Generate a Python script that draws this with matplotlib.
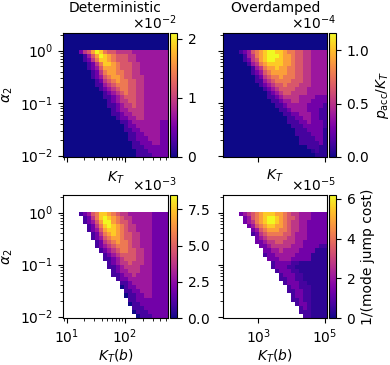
import numpy as np
import matplotlib
matplotlib.use("Agg")
import matplotlib.pyplot as plt
from matplotlib.ticker import ScalarFormatter

plt.rcParams['axes.unicode_minus'] = False

# scan ranges (bin edges)
kt_det = [8.65, 547.0]          # K_T range, deterministic
kt_od = [87.0, 1.15e5]          # K_T range, overdamped
alpha_lim = [0.0094, 1.04, 2.17]  # bottom of grid, top of data rows, top of axes

# colour scale maxima
vmax_det_acc = 2.1e-2
vmax_od_acc = 1.16e-4
vmax_det_jump = 8.5e-3
vmax_od_jump = 6.2e-5

# colourbar ticks
ticks_det_acc = [0, 1e-2, 2e-2]
ticks_od_acc = [0, 0.5e-4, 1.0e-4]
ticks_det_jump = [0, 2.5e-3, 5.0e-3, 7.5e-3]
ticks_od_jump = [0, 2e-5, 4e-5, 6e-5]

# colour levels: digits are whole steps, letters are the half steps between them
LEVELS = "0a1b2c3d4e5f6g7h8i9"

# one string per alpha_2 row (top row = alpha_2 ~ 1), one char per K_T column
# '.' = no data
det_acc = [
    "00002457986554444333333333",
    "00000135798765554433333333",
    "00000124688765554433333333",
    "00000012468876555443333333",
    "00000012357776555443333333",
    "00000001246776655443333333",
    "00000001235677655444333333",
    "00000000124567665544333333",
    "00000000113456665544333333",
    "00000000012345665544333333",
    "00000000001234565544333333",
    "00000000001123455544333333",
    "00000000000123445544333333",
    "00000000000112344544333333",
    "00000000000012334444333333",
    "00000000000011233444333333",
    "00000000000001223344333333",
    "00000000000000112333333322",
    "00000000000000012233333322",
    "00000000000000011223333322",
    "00000000000000001122333322",
    "00000000000000001122233322",
    "00000000000000000112223322",
    "00000000000000000111222222",
    "00000000000000000011122222",
    "00000000000000000011112222",
]

od_acc = [
    "00001235678998876655443333",
    "00000134678999877655443333",
    "00000124578998877655443333",
    "00000013467888877655443333",
    "00000001346778776655443333",
    "00000001235677776655443333",
    "00000000124566766655443333",
    "00000000113456666555443333",
    "00000000012345565554443333",
    "00000000001234555544433333",
    "00000000000123455444433333",
    "00000000000112344443333222",
    "00000000000011233443332222",
    "00000000000001123333322221",
    "00000000000000112333322211",
    "00000000000000011223332211",
    "00000000000000001122332211",
    "00000000000000001112232221",
    "00000000000000000111222221",
    "0000000000000000001112222a",
    "0000000000000000001111222a",
    "0000000000000000000111122a",
    "0000000000000000000111112a",
    "000000000000000000000111aa",
    "0000000000000000000000a1aa",
    "00000000000000000000000aaa",
]

det_jump = [
    "....1235688765443333332222",
    ".....124689876544333332222",
    ".....123579976554333332222",
    "......12468987654433332222",
    "......12357887654433332222",
    ".......1246787655443332222",
    ".......1235677655443332222",
    "........124567665443332222",
    "........123456665443332222",
    ".........12345665544332222",
    "..........1234555544332222",
    "..........1123455544332222",
    "...........123445444332222",
    "...........112344443332222",
    "............12334443332222",
    "............11233433332222",
    ".............1223333332222",
    "..............112333332222",
    "..............012233332222",
    "...............11223332222",
    "...............01122332222",
    "................1122222222",
    "................0112222222",
    ".................111222222",
    ".................011122222",
    "..................01112222",
]

od_jump = [
    "....2345678887765443332222",
    ".....235678998765543332222",
    ".....234678998765443322222",
    "......23567887765443322222",
    ".......2356777665443322222",
    ".......1245666655433322222",
    "........234555554433322222",
    "........223445544433222222",
    ".........22344444333222211",
    "..........2233433332222aaa",
    "..........122333332222aaaa",
    "...........22233322222aaaa",
    "............1222211aaaaaaa",
    "............122211aaaaaaaa",
    ".............122211aaaaaaa",
    "..............122211aaaaaa",
    "..............112211aaaaaa",
    "...............122211aaaaa",
    "................122111aaaa",
    "................112211aaaa",
    ".................12211aaaa",
    ".................11211aaaa",
    "..................1221aaaa",
    "...................121aaaa",
    "...................111aaaa",
    "....................11aaaa",
]


def to_grid(rows, vmax, top_fill):
    # rows are listed top to bottom, pcolormesh wants bottom to top
    z = np.full((len(rows) + 1, len(rows[0])), top_fill)
    for i, row in enumerate(rows[::-1]):
        for j, ch in enumerate(row):
            z[i, j] = np.nan if ch == '.' else LEVELS.index(ch) / 18 * vmax
    return np.ma.masked_invalid(z)


def edges(rows, kt):
    n_a = len(rows)
    n_k = len(rows[0])
    a_e = np.append(np.logspace(np.log10(alpha_lim[0]), np.log10(alpha_lim[1]), n_a + 1), alpha_lim[2])
    k_e = np.logspace(np.log10(kt[0]), np.log10(kt[1]), n_k + 1)
    return k_e, a_e


W, H = 390, 365
fig = plt.figure(figsize=(W / 100, H / 100), dpi=100)


def px_axes(l, t, r, b):
    return fig.add_axes([l / W, 1 - b / H, (r - l) / W, (b - t) / H])


def panel(box, rows, kt, vmax, ticks, top_fill, title=None, xlabel=None, ylabel=None,
          cbar_label=None, show_x=True, show_y=True):
    l, t, r, b = box
    ax = px_axes(l, t, r, b)
    k_e, a_e = edges(rows, kt)
    m = ax.pcolormesh(k_e, a_e, to_grid(rows, vmax, top_fill), cmap='plasma', vmin=0, vmax=vmax)
    ax.set_xscale('log')
    ax.set_yscale('log')
    ax.set_xlim(k_e[0], k_e[-1])
    ax.set_ylim(a_e[0], a_e[-1])
    if title:
        ax.set_title(title, fontsize=10, pad=15)
    ax.set_xlabel(xlabel, labelpad=1 if show_x else 4)
    if ylabel:
        ax.set_ylabel(ylabel)
    ax.tick_params(labelbottom=show_x, labelleft=show_y)

    cax = px_axes(r + 2, t, r + 9, b)
    cb = fig.colorbar(m, cax=cax)
    fmt = ScalarFormatter(useMathText=True)
    fmt.set_powerlimits((0, 0))
    cb.formatter = fmt
    cb.set_ticks(ticks)
    cb.update_ticks()
    if cbar_label:
        cb.set_label(cbar_label)
    return ax


panel((63, 33, 168, 157), det_acc, kt_det, vmax_det_acc, ticks_det_acc, 0.0,
      title="Deterministic", xlabel=r"$K_T$", ylabel=r"$\alpha_2$", show_x=False)
panel((223, 33, 327, 157), od_acc, kt_od, vmax_od_acc, ticks_od_acc, 0.0,
      title="Overdamped", xlabel=r"$K_T$", cbar_label=r"$p_{\rm acc}/K_T$",
      show_x=False, show_y=False)
panel((63, 195, 168, 318), det_jump, kt_det, vmax_det_jump, ticks_det_jump, np.nan,
      xlabel=r"$K_T(b)$", ylabel=r"$\alpha_2$")
panel((223, 195, 327, 318), od_jump, kt_od, vmax_od_jump, ticks_od_jump, np.nan,
      xlabel=r"$K_T(b)$", cbar_label="1/(mode jump cost)", show_y=False)

plt.savefig("out.png", dpi=100)
